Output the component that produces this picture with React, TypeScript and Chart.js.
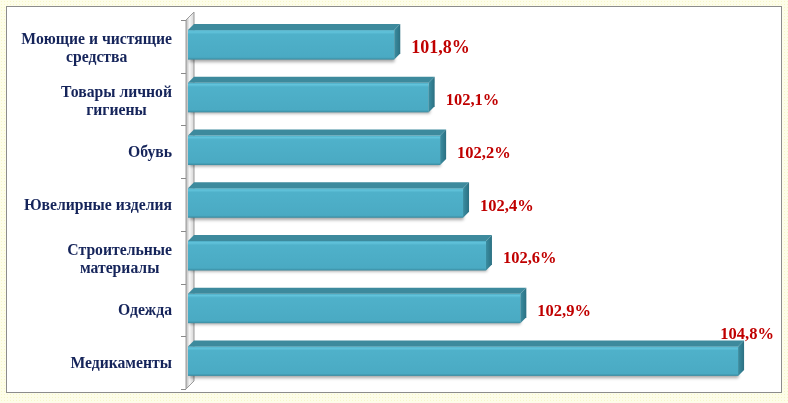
import { useEffect, useRef } from "react";
import { Chart, registerables } from "chart.js";

Chart.register(...registerables);

// ---- data ----
const categories: string[][] = [
  ["Моющие и чистящие", "средства"],
  ["Товары личной", "гигиены"],
  ["Обувь"],
  ["Ювелирные изделия"],
  ["Строительные", "материалы"],
  ["Одежда"],
  ["Медикаменты"],
];
const values: number[] = [101.8, 102.1, 102.2, 102.4, 102.6, 102.9, 104.8];
const axisMin = 100;
const axisMax = 105;

// ---- style ----
const CANVAS_W = 774;
const CANVAS_H = 385;
const LABEL_FONT = "bold 15.7px 'Liberation Serif', 'Times New Roman', serif";
const LABEL_COLOR = "#15245a";
const VALUE_COLOR = "#c00000";
const DEPTH = 6;

const fmt = (v: number) => v.toFixed(1).replace(".", ",") + "%";

const bars3d = {
  id: "bars3d",
  beforeDatasetsDraw(chart: any) {
    const { ctx, chartArea } = chart;
    const cx = chartArea.left - 2;
    const top = chartArea.top;
    const bottom = chartArea.bottom;
    const d = 8;
    ctx.save();
    const g = ctx.createLinearGradient(cx, 0, cx + d, 0);
    g.addColorStop(0, "#b8b8b8");
    g.addColorStop(0.45, "#f6f6f6");
    g.addColorStop(1, "#d4d4d4");
    ctx.beginPath();
    ctx.moveTo(cx, top);
    ctx.lineTo(cx + d, top - d);
    ctx.lineTo(cx + d, bottom - d);
    ctx.lineTo(cx, bottom);
    ctx.closePath();
    ctx.fillStyle = g;
    ctx.fill();
    ctx.strokeStyle = "#9a9a9a";
    ctx.lineWidth = 1;
    ctx.stroke();
    // ticks
    const n = categories.length;
    const band = (bottom - top) / n;
    ctx.beginPath();
    for (let i = 0; i <= n; i++) {
      const y = Math.round(top + i * band) + 0.5;
      ctx.moveTo(cx - 5, y);
      ctx.lineTo(cx, y);
    }
    ctx.strokeStyle = "#8a8a8a";
    ctx.stroke();
    ctx.restore();
  },
  afterDatasetsDraw(chart: any) {
    const { ctx } = chart;
    const meta = chart.getDatasetMeta(0);
    const basePx = chart.scales.x.getPixelForValue(axisMin);
    ctx.save();
    meta.data.forEach((el: any) => {
      const { x, y, height } = el.getProps(["x", "y", "height"], true);
      const x0 = basePx;
      const x1 = x;
      const yTop = y - height / 2 - 1.5;
      const yBot = yTop + height;
      const D = DEPTH;
      // shadow + front
      ctx.save();
      ctx.shadowColor = "rgba(0,0,0,0.35)";
      ctx.shadowBlur = 3;
      ctx.shadowOffsetY = 2;
      ctx.shadowOffsetX = 1;
      const fg = ctx.createLinearGradient(0, yTop, 0, yBot);
      fg.addColorStop(0, "#4aa9c2");
      fg.addColorStop(0.06, "#62c4dc");
      fg.addColorStop(0.14, "#4fb1ca");
      fg.addColorStop(0.92, "#4aaac3");
      fg.addColorStop(1, "#3a8ba0");
      ctx.fillStyle = fg;
      ctx.fillRect(x0, yTop, x1 - x0, yBot - yTop);
      ctx.restore();
      // top face
      ctx.beginPath();
      ctx.moveTo(x0, yTop);
      ctx.lineTo(x0 + D, yTop - D);
      ctx.lineTo(x1 + D, yTop - D);
      ctx.lineTo(x1, yTop);
      ctx.closePath();
      ctx.fillStyle = "#3d8a9d";
      ctx.fill();
      // side face
      const sg = ctx.createLinearGradient(x1, 0, x1 + D, 0);
      sg.addColorStop(0, "#3a8ea2");
      sg.addColorStop(1, "#2c7082");
      ctx.beginPath();
      ctx.moveTo(x1, yTop);
      ctx.lineTo(x1 + D, yTop - D);
      ctx.lineTo(x1 + D, yBot - D);
      ctx.lineTo(x1, yBot);
      ctx.closePath();
      ctx.fillStyle = sg;
      ctx.fill();
    });
    ctx.restore();
  },
  afterDraw(chart: any) {
    const { ctx, chartArea } = chart;
    const meta = chart.getDatasetMeta(0);
    const n = categories.length;
    const band = (chartArea.bottom - chartArea.top) / n;
    ctx.save();
    // category labels
    ctx.font = LABEL_FONT;
    ctx.fillStyle = LABEL_COLOR;
    ctx.textAlign = "center";
    ctx.textBaseline = "middle";
    const rightEdge = chartArea.left - 16;
    const lh = 18;
    categories.forEach((lines, i) => {
      const cy = chartArea.top + band * (i + 0.5) + (lines.length > 1 ? 2.5 : 1.5);
      const w = Math.max(...lines.map((l) => ctx.measureText(l).width));
      const cxm = rightEdge - w / 2;
      lines.forEach((l, k) => {
        const yy = cy + (k - (lines.length - 1) / 2) * lh;
        ctx.fillText(l, cxm, yy);
      });
    });
    // value labels
    ctx.fillStyle = VALUE_COLOR;
    meta.data.forEach((el: any, i: number) => {
      const { x, y, height } = el.getProps(["x", "y", "height"], true);
      const size = i === 0 ? 18 : 16.5;
      ctx.font = `bold ${size}px 'Liberation Serif', 'Times New Roman', serif`;
      const text = fmt(values[i]);
      const w = ctx.measureText(text).width;
      const tx = x + 17;
      if (tx + w > chart.width - 4) {
        ctx.textAlign = "center";
        const yTop = y - height / 2 - 1.5;
        ctx.fillText(text, x + 9, yTop - DEPTH - 6);
      } else {
        ctx.textAlign = "left";
        ctx.fillText(text, tx, y + 2);
      }
    });
    ctx.restore();
  },
};

export default function App() {
  const ref = useRef<HTMLCanvasElement | null>(null);
  useEffect(() => {
    document.body.style.margin = "0";
    if (!ref.current) return;
    const chart = new Chart(ref.current, {
      type: "bar",
      data: {
        labels: categories.map((c) => c.join(" ")),
        datasets: [
          {
            data: values,
            base: axisMin,
            backgroundColor: "rgba(0,0,0,0)",
            borderWidth: 0,
            barPercentage: 0.56,
            categoryPercentage: 1,
          } as any,
        ],
      },
      options: {
        indexAxis: "y",
        responsive: false,
        animation: false,
        devicePixelRatio: 1,
        layout: { padding: { left: 181, right: 20, top: 13, bottom: 3 } },
        plugins: { legend: { display: false }, tooltip: { enabled: false } },
        scales: {
          x: { display: false, min: axisMin, max: axisMax },
          y: { display: false },
        },
      },
      plugins: [bars3d],
    });
    return () => chart.destroy();
  }, []);

  return (
    <div
      style={{
        position: "relative",
        width: 788,
        height: 403,
        backgroundColor: "#fdfde9",
        backgroundImage: "radial-gradient(#f6f6c8 0.8px, transparent 0.9px)",
        backgroundSize: "3px 3px",
        overflow: "hidden",
      }}
    >
      <div
        style={{
          position: "absolute",
          left: 6,
          top: 6,
          width: 776,
          height: 387,
          boxSizing: "border-box",
          border: "1px solid #8c8c8c",
          background: "#ffffff",
        }}
      >
        <canvas ref={ref} width={CANVAS_W} height={CANVAS_H} style={{ display: "block" }} />
      </div>
    </div>
  );
}
